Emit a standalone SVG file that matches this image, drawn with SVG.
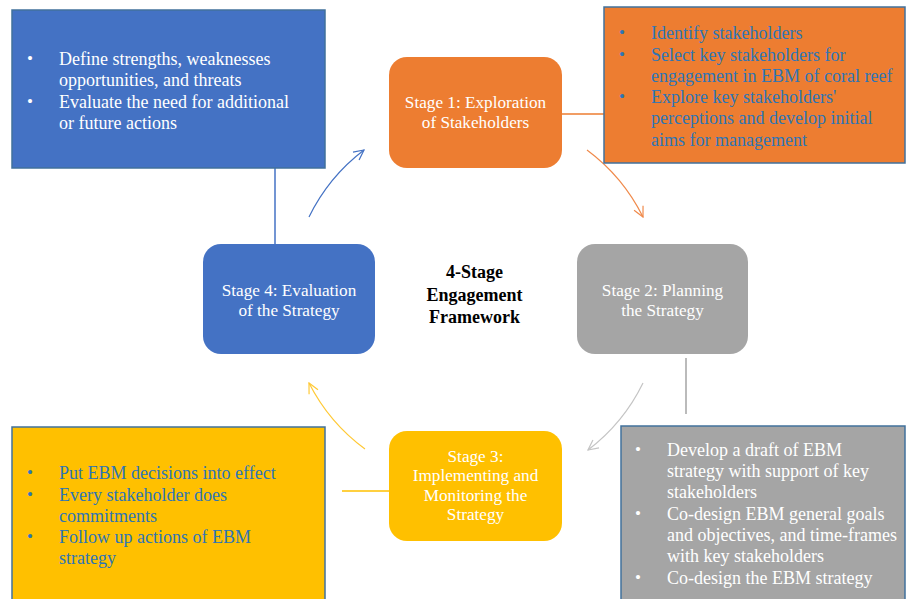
<svg xmlns="http://www.w3.org/2000/svg" width="906" height="599" viewBox="0 0 906 599">
<style>
  .t { font-family: "Liberation Serif", "Times New Roman", serif; font-size: 18px; }
  .s { font-size: 17.2px; }
  .bu { font-size: 17px; }
  .w { fill: #FFFFFF; }
  .b { fill: #2E75B6; }
  .c { text-anchor: middle; }
  .box { stroke: #41719C; stroke-width: 1.5; }
  .arc { fill: none; stroke-width: 1.2; }
  .ln { fill: none; stroke-width: 1.5; }
</style>
<defs>
  <marker id="ahB" viewBox="0 0 12 12" refX="11" refY="6" markerWidth="12" markerHeight="12" markerUnits="userSpaceOnUse" orient="auto">
    <path d="M1,1 L11,6 L1,11" fill="none" stroke="#4472C4" stroke-width="1.2"/>
  </marker>
  <marker id="ahO" viewBox="0 0 12 12" refX="11" refY="6" markerWidth="12" markerHeight="12" markerUnits="userSpaceOnUse" orient="auto">
    <path d="M1,1 L11,6 L1,11" fill="none" stroke="#F08A4B" stroke-width="1.2"/>
  </marker>
  <marker id="ahG" viewBox="0 0 12 12" refX="11" refY="6" markerWidth="12" markerHeight="12" markerUnits="userSpaceOnUse" orient="auto">
    <path d="M1,1 L11,6 L1,11" fill="none" stroke="#C4C4C4" stroke-width="1.2"/>
  </marker>
  <marker id="ahY" viewBox="0 0 12 12" refX="11" refY="6" markerWidth="12" markerHeight="12" markerUnits="userSpaceOnUse" orient="auto">
    <path d="M1,1 L11,6 L1,11" fill="none" stroke="#FFC935" stroke-width="1.2"/>
  </marker>
</defs>
<rect width="906" height="599" fill="#FFFFFF"/>

<g id="connectors">
  <line class="ln" x1="562" y1="114" x2="604" y2="114" stroke="#ED7D31"/>
  <line class="ln" x1="275" y1="168" x2="275" y2="244" stroke="#4472C4"/>
  <line class="ln" x1="686" y1="358" x2="686" y2="414" stroke="#A5A5A5"/>
  <line class="ln" x1="342" y1="491" x2="389" y2="491" stroke="#FFC000"/>
  <path class="arc" d="M309,217 A187,187 0 0 1 364,150" stroke="#4472C4" marker-end="url(#ahB)"/>
  <path class="arc" d="M587,150 A187,187 0 0 1 643,217" stroke="#F08A4B" marker-end="url(#ahO)"/>
  <path class="arc" d="M643,383 A187,187 0 0 1 588,450" stroke="#C4C4C4" marker-end="url(#ahG)"/>
  <path class="arc" d="M365,449 A187,187 0 0 1 309,383" stroke="#FFC935" marker-end="url(#ahY)"/>
</g>

<g id="box-evaluation">
  <rect class="box" x="12" y="10" width="313" height="158" fill="#4472C4"/>
  <text class="t bu w" x="27" y="64">•</text>
  <text class="t w" x="59" y="65">Define strengths, weaknesses</text>
  <text class="t w" x="59" y="86">opportunities, and threats</text>
  <text class="t bu w" x="27" y="107">•</text>
  <text class="t w" x="59" y="108">Evaluate the need for additional</text>
  <text class="t w" x="59" y="129">or future actions</text>
</g>

<g id="box-exploration">
  <rect class="box" x="604" y="7" width="301" height="156" fill="#ED7D31"/>
  <text class="t bu b" x="619" y="38">•</text>
  <text class="t b" x="651" y="39">Identify stakeholders</text>
  <text class="t bu b" x="619" y="60">•</text>
  <text class="t b" x="651" y="61">Select key stakeholders for</text>
  <text class="t b" x="651" y="82">engagement in EBM of coral reef</text>
  <text class="t bu b" x="619" y="102">•</text>
  <text class="t b" x="651" y="103">Explore key stakeholders'</text>
  <text class="t b" x="651" y="124">perceptions and develop initial</text>
  <text class="t b" x="651" y="146">aims for management</text>
</g>

<g id="box-implementing">
  <rect class="box" x="12" y="427" width="313" height="180" fill="#FFC000"/>
  <text class="t bu b" x="27" y="478">•</text>
  <text class="t b" x="59" y="479">Put EBM decisions into effect</text>
  <text class="t bu b" x="27" y="500">•</text>
  <text class="t b" x="59" y="501">Every stakeholder does</text>
  <text class="t b" x="59" y="522">commitments</text>
  <text class="t bu b" x="27" y="542">•</text>
  <text class="t b" x="59" y="543">Follow up actions of EBM</text>
  <text class="t b" x="59" y="564">strategy</text>
</g>

<g id="box-planning">
  <rect class="box" x="621" y="426" width="284" height="180" fill="#A5A5A5"/>
  <text class="t bu w" x="635" y="455">•</text>
  <text class="t w" x="667" y="456">Develop a draft of EBM</text>
  <text class="t w" x="667" y="477">strategy with support of key</text>
  <text class="t w" x="667" y="498">stakeholders</text>
  <text class="t bu w" x="635" y="519">•</text>
  <text class="t w" x="667" y="520">Co-design EBM general goals</text>
  <text class="t w" x="667" y="541">and objectives, and time-frames</text>
  <text class="t w" x="667" y="562">with key stakeholders</text>
  <text class="t bu w" x="635" y="583">•</text>
  <text class="t w" x="667" y="584">Co-design the EBM strategy</text>
</g>

<g id="stage1">
  <rect x="389" y="57" width="173" height="111" rx="18" fill="#ED7D31"/>
  <text class="t s w c" x="475.5" y="108">Stage 1: Exploration</text>
  <text class="t s w c" x="475.5" y="127.5">of Stakeholders</text>
</g>

<g id="stage2">
  <rect x="577" y="244" width="171" height="110" rx="18" fill="#A5A5A5"/>
  <text class="t s w c" x="662.5" y="296">Stage 2: Planning</text>
  <text class="t s w c" x="662.5" y="315.5">the Strategy</text>
</g>

<g id="stage3">
  <rect x="389" y="431" width="173" height="110" rx="18" fill="#FFC000"/>
  <text class="t s w c" x="475.5" y="461.5">Stage 3:</text>
  <text class="t s w c" x="475.5" y="481">Implementing and</text>
  <text class="t s w c" x="475.5" y="500.5">Monitoring the</text>
  <text class="t s w c" x="475.5" y="520">Strategy</text>
</g>

<g id="stage4">
  <rect x="203" y="244" width="172" height="110" rx="18" fill="#4472C4"/>
  <text class="t s w c" x="289" y="296">Stage 4: Evaluation</text>
  <text class="t s w c" x="289" y="315.5">of the Strategy</text>
</g>

<g id="center-title">
  <text class="t c" x="474.5" y="278" font-weight="bold" font-size="16.5" fill="#000000">4-Stage</text>
  <text class="t c" x="474.5" y="301" font-weight="bold" font-size="16.5" fill="#000000">Engagement</text>
  <text class="t c" x="474.5" y="323" font-weight="bold" font-size="16.5" fill="#000000">Framework</text>
</g>
</svg>
